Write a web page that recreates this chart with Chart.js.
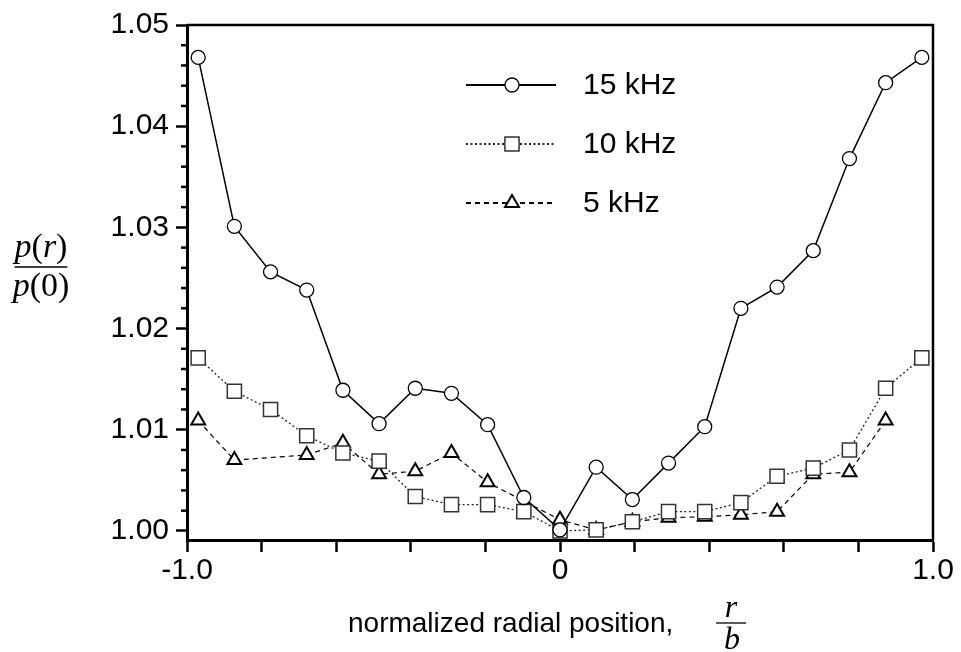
<!DOCTYPE html>
<html>
<head>
<meta charset="utf-8">
<script src="https://cdn.jsdelivr.net/npm/chart.js@4/dist/chart.umd.min.js"></script>
<style>
  html, body { margin: 0; padding: 0; background: #fff; }
  canvas { display: block; }
</style>
</head>
<body>
<canvas id="chart" width="961" height="652"></canvas>
<script>
// normalized radial position r/b
const xPos = [-0.97, -0.873, -0.776, -0.679, -0.582, -0.485, -0.388, -0.291, -0.194, -0.097, 0,
              0.097, 0.194, 0.291, 0.388, 0.485, 0.582, 0.679, 0.776, 0.873, 0.97];

// p(r)/p(0) for each frequency
const p15 = [1.0468, 1.0301, 1.0256, 1.0238, 1.0139, 1.0106, 1.0141, 1.0136, 1.0105, 1.0033, 1.0001,
             1.0063, 1.0031, 1.0067, 1.0103, 1.0220, 1.0241, 1.0277, 1.0368, 1.0443, 1.0468];
const p10 = [1.0171, 1.0138, 1.0120, 1.0094, 1.0077, 1.0069, 1.0034, 1.0026, 1.0026, 1.0019, 1.0000,
             1.0001, 1.0009, 1.0019, 1.0019, 1.0028, 1.0054, 1.0062, 1.0080, 1.0141, 1.0171];
const p5  = [1.0109, 1.0070, null, 1.0075, 1.0087, 1.0056, 1.0059, 1.0077, 1.0048, null, 1.0011,
             1.0001, 1.0009, 1.0013, 1.0014, 1.0016, 1.0019, 1.0056, 1.0058, 1.0109, null];

const seriesLabels = ['15 kHz', '10 kHz', '5 kHz'];

// tick labels
const xTickValues = [-1.0, 0, 1.0];
const xTickText = ['-1.0', '0', '1.0'];
const yTickValues = [1.00, 1.01, 1.02, 1.03, 1.04, 1.05];
const yTickText = ['1.00', '1.01', '1.02', '1.03', '1.04', '1.05'];

const sans = '"Liberation Sans", Arial, Helvetica, sans-serif';
const serif = '"Liberation Serif", "Times New Roman", serif';

function pts(ys) {
    return xPos.map((x, i) => ({ x: x, y: ys[i] }));
}

function findLabel(values, texts, v) {
    for (let i = 0; i < values.length; i++) {
        if (Math.abs(values[i] - v) < 1e-6) return texts[i];
    }
    return '';
}

function isMajorY(v) {
    return findLabel(yTickValues, yTickText, v) !== '';
}

// draws text made of italic / upright pieces, centred on cx
function drawRich(ctx, parts, cx, baseline, size) {
    let w = 0;
    parts.forEach(p => {
        ctx.font = (p[1] ? 'italic ' : '') + size + 'px ' + serif;
        w += ctx.measureText(p[0]).width;
    });
    let x = cx - w / 2;
    ctx.textAlign = 'left';
    ctx.textBaseline = 'alphabetic';
    parts.forEach(p => {
        ctx.font = (p[1] ? 'italic ' : '') + size + 'px ' + serif;
        ctx.fillText(p[0], x, baseline);
        x += ctx.measureText(p[0]).width;
    });
    return w;
}

const decor = {
    id: 'decor',
    afterDraw(chart) {
        const { ctx, chartArea: a, scales: { y } } = chart;
        ctx.save();
        ctx.strokeStyle = '#000';
        ctx.fillStyle = '#000';

        // top and right frame
        ctx.lineWidth = 2.5;
        ctx.beginPath();
        ctx.moveTo(a.left, a.top);
        ctx.lineTo(a.right, a.top);
        ctx.lineTo(a.right, a.bottom);
        ctx.stroke();

        // minor y ticks
        ctx.lineWidth = 2.5;
        y.ticks.forEach(t => {
            if (isMajorY(t.value)) return;
            const py = y.getPixelForValue(t.value);
            ctx.beginPath();
            ctx.moveTo(a.left - 6, py);
            ctx.lineTo(a.left, py);
            ctx.stroke();
        });

        // legend inside the plot
        const rows = [85, 144, 203];
        chart.data.datasets.forEach((ds, i) => {
            const ly = rows[i];
            ctx.save();
            ctx.strokeStyle = ds.borderColor;
            ctx.lineWidth = ds.borderWidth + 0.6;
            ctx.setLineDash(ds.borderDash || []);
            ctx.beginPath();
            ctx.moveTo(466, ly);
            ctx.lineTo(556, ly);
            ctx.stroke();
            ctx.restore();

            ctx.save();
            ctx.fillStyle = '#fff';
            ctx.strokeStyle = ds.pointBorderColor;
            ctx.lineWidth = ds.pointBorderWidth;
            Chart.helpers.drawPoint(ctx, {
                pointStyle: ds.pointStyle,
                radius: ds.pointRadius,
                rotation: 0,
                borderWidth: ds.pointBorderWidth
            }, 512, ly);
            ctx.restore();

            ctx.font = '30px ' + sans;
            ctx.textAlign = 'left';
            ctx.textBaseline = 'middle';
            ctx.fillText(ds.label, 583, ly + 1);
        });

        // y axis title p(r) / p(0)
        const wTop = drawRich(ctx, [['p', true], ['(', false], ['r', true], [')', false]], 41, 257, 34);
        const wBot = drawRich(ctx, [['p', true], ['(', false], ['0', false], [')', false]], 41, 296, 34);
        ctx.lineWidth = 1.3;
        ctx.beginPath();
        ctx.moveTo(41 - Math.max(wTop, wBot) / 2 + 2, 267);
        ctx.lineTo(41 + Math.max(wTop, wBot) / 2 - 2, 267);
        ctx.stroke();

        // x axis title
        ctx.font = '28px ' + sans;
        ctx.textAlign = 'left';
        ctx.textBaseline = 'alphabetic';
        ctx.fillText('normalized radial position,', 348, 632);

        drawRich(ctx, [['r', true]], 731, 617, 32);
        drawRich(ctx, [['b', true]], 732, 649, 32);
        ctx.lineWidth = 1.3;
        ctx.beginPath();
        ctx.moveTo(716, 623);
        ctx.lineTo(746, 623);
        ctx.stroke();

        ctx.restore();
    }
};

new Chart('chart', {
    type: 'line',
    data: {
        datasets: [
            {
                label: seriesLabels[0],
                data: pts(p15),
                borderColor: '#000',
                borderWidth: 1.5,
                pointStyle: 'circle',
                pointRadius: 7,
                pointBorderWidth: 1.3,
                pointBorderColor: '#000',
                pointBackgroundColor: '#fff'
            },
            {
                label: seriesLabels[1],
                data: pts(p10),
                borderColor: '#222',
                borderWidth: 1.3,
                borderDash: [2, 2.5],
                pointStyle: 'rect',
                pointRadius: 10,
                pointBorderWidth: 1.5,
                pointBorderColor: '#333',
                pointBackgroundColor: '#fff'
            },
            {
                label: seriesLabels[2],
                data: pts(p5),
                borderColor: '#000',
                borderWidth: 1.2,
                borderDash: [5, 4],
                spanGaps: true,
                pointStyle: 'triangle',
                pointRadius: 8,
                pointBorderWidth: 2,
                pointBorderColor: '#000',
                pointBackgroundColor: '#fff'
            }
        ]
    },
    options: {
        responsive: false,
        animation: false,
        devicePixelRatio: 1,
        layout: { padding: { left: 0, right: 28, top: 19, bottom: 0 } },
        elements: { line: { tension: 0 } },
        plugins: {
            legend: { display: false },
            tooltip: { enabled: false }
        },
        scales: {
            x: {
                type: 'linear',
                min: -1,
                max: 1,
                afterFit(scale) { scale.height = 112; },
                border: { color: '#000', width: 3 },
                grid: {
                    drawOnChartArea: false,
                    tickLength: 12,
                    tickWidth: 2.5,
                    tickColor: '#000'
                },
                ticks: {
                    stepSize: 0.2,
                    autoSkip: false,
                    maxRotation: 0,
                    padding: 1,
                    color: '#000',
                    font: { family: sans, size: 30 },
                    callback: v => findLabel(xTickValues, xTickText, v)
                }
            },
            y: {
                min: 0.9991,
                max: 1.05,
                afterFit(scale) { scale.width = 187; },
                border: { color: '#000', width: 3 },
                grid: {
                    drawOnChartArea: false,
                    tickLength: 11,
                    tickWidth: 2.5,
                    tickColor: ctx => isMajorY(ctx.tick.value) ? '#000' : 'rgba(0,0,0,0)'
                },
                ticks: {
                    stepSize: 0.002,
                    includeBounds: false,
                    autoSkip: false,
                    padding: 7,
                    color: '#000',
                    font: { family: sans, size: 30 },
                    callback: v => findLabel(yTickValues, yTickText, v)
                }
            }
        }
    },
    plugins: [decor]
});
</script>
</body>
</html>
